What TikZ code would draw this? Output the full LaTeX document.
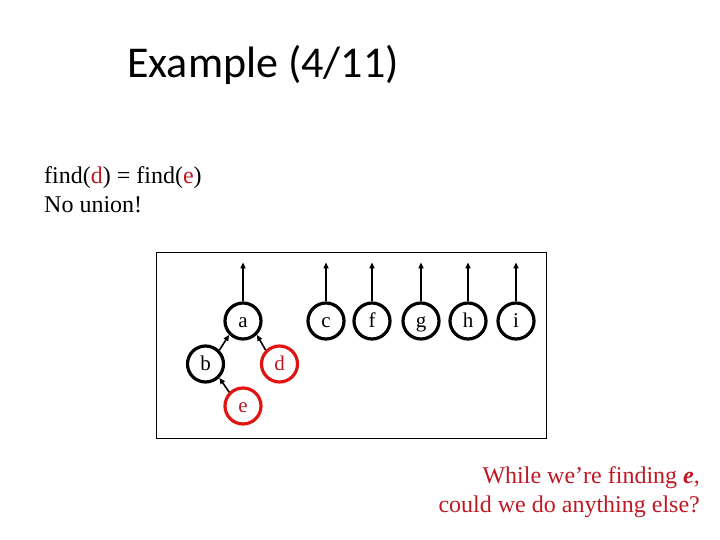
\documentclass[tikz,border=0pt]{standalone}
\usepackage{fontspec}
\setmainfont{Liberation Serif}
\newfontfamily\titlefont{Carlito}
\usetikzlibrary{arrows.meta}
\definecolor{ringred}{RGB}{225,20,20}
\definecolor{txtred}{RGB}{190,25,35}
\tikzset{
  elem/.style={circle,draw=black,line width=3.2pt,minimum size=36pt,inner sep=0pt,text height=12pt,text depth=0pt,font=\fontsize{21}{25}\selectfont},
  redelem/.style={elem,draw=ringred,text=txtred},
  ptr/.style={line width=1.6pt,-{Triangle[length=6pt,width=5pt]}},
}
\begin{document}
\begin{tikzpicture}[x=1pt,y=-1pt]
\useasboundingbox (0,0) rectangle (720,540);
\node[anchor=base west,inner sep=0pt,font=\titlefont\fontsize{44}{52}\selectfont] (title) at (127,78) {Example (4/11)};
\node[anchor=base west,inner sep=0pt,font=\fontsize{24}{29}\selectfont] (l1) at (44,184) {find(\textcolor{txtred}{d}) = find(\textcolor{txtred}{e})};
\node[anchor=base west,inner sep=0pt,font=\fontsize{24}{29}\selectfont] (l2) at (44,213) {No union!};
\node[draw=black,line width=0.8pt,minimum width=390pt,minimum height=186pt,anchor=north west,inner sep=0pt] (frame) at (156,252) {};
\node[elem] (a) at (243,321) {a};
\node[elem] (c) at (326,321) {c};
\node[elem] (f) at (372,321) {f};
\node[elem] (g) at (421,321) {g};
\node[elem] (h) at (468,321) {h};
\node[elem] (i) at (516,321) {i};
\node[elem] (b) at (205.5,364) {b};
\node[redelem] (d) at (279.5,364) {d};
\node[redelem] (e) at (243,406) {e};
\foreach \n in {a,c,f,g,h,i}{
  \coordinate (\n top) at ([yshift=39pt]\n.north);
  \draw[ptr] (\n.north) -- (\n top);
}
\draw[ptr] (b.north east) -- (a.south west);
\draw[ptr] (d.north west) -- (a.south east);
\draw[ptr] (e.north west) -- (b.south east);
\node[anchor=base east,inner sep=0pt,font=\fontsize{24}{29}\selectfont,text=txtred] (q1) at (700,483) {While we’re finding \textbf{\textit{e}},};
\node[anchor=base east,inner sep=0pt,font=\fontsize{24}{29}\selectfont,text=txtred] (q2) at (700,512) {could we do anything else?};
\end{tikzpicture}
\end{document}
